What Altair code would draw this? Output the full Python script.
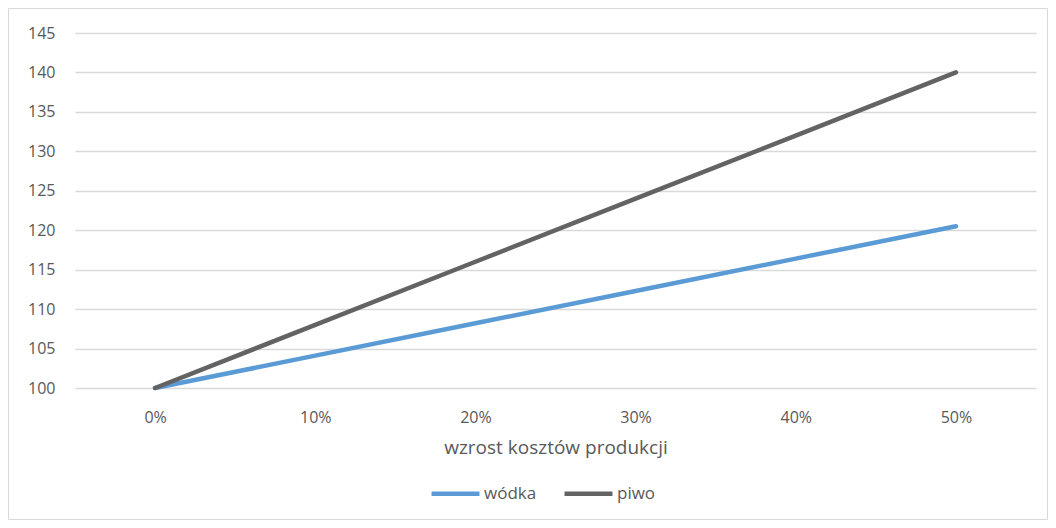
import altair as alt
import pandas as pd

categories = ["0%", "10%", "20%", "30%", "40%", "50%"]
wodka = [100, 104.1, 108.2, 112.3, 116.4, 120.5]
piwo = [100, 108, 116, 124, 132, 140]
series_names = ["wódka", "piwo"]
colors = ["#5b9bd5", "#636363"]

rows = []
for c, w, p in zip(categories, wodka, piwo):
    rows.append({"koszt": c, "seria": "wódka", "wartosc": w})
    rows.append({"koszt": c, "seria": "piwo", "wartosc": p})
df = pd.DataFrame(rows)

FONT = "Open Sans"
W, H = 961, 355

lines = alt.Chart(df).mark_line(strokeWidth=4.5, strokeCap="round").encode(
    x=alt.X("koszt:N", sort=categories,
            scale=alt.Scale(paddingOuter=0.5, paddingInner=0),
            axis=alt.Axis(title="wzrost kosztów produkcji", labelAngle=0,
                          labelPadding=21, titlePadding=13, ticks=False,
                          domain=False, grid=False)),
    y=alt.Y("wartosc:Q", scale=alt.Scale(domain=[100, 145], nice=False, zero=False),
            axis=alt.Axis(title=None, values=list(range(100, 150, 5)), ticks=False,
                          domain=False, labelPadding=20)),
    color=alt.Color("seria:N", scale=alt.Scale(domain=series_names, range=colors),
                    sort=series_names,
                    legend=alt.Legend(title=None, orient="none", direction="horizontal",
                                      legendX=354, legendY=434,
                                      symbolType="stroke", symbolSize=2300,
                                      symbolStrokeWidth=4.5, labelOffset=2,
                                      columnPadding=18)),
    order=alt.Order("seria:N", sort="descending"),
)

border = alt.Chart(pd.DataFrame({"a": [0]})).mark_rect(
    fill=None, stroke="#d9d9d9", strokeWidth=1, clip=False
).encode(
    x=alt.value(-66.5), x2=alt.value(W + 11.5), y=alt.value(-24.5), y2=alt.value(H + 131.5)
)

chart = alt.layer(border, lines).properties(
    width=W, height=H,
    autosize=alt.AutoSizeParams(type="none"),
    padding={"left": 67, "top": 25, "right": 12, "bottom": 132},
).configure_view(stroke=None).configure_axis(
    labelFont=FONT, titleFont=FONT, labelColor="#595959", titleColor="#595959",
    labelFontSize=16, titleFontSize=19, titleFontWeight="normal",
    gridColor="#d9d9d9", gridWidth=1.3,
).configure_legend(
    labelFont=FONT, labelFontSize=17, labelColor="#595959",
)

chart.save("out.html", embed_options={"renderer": "svg", "actions": False})
